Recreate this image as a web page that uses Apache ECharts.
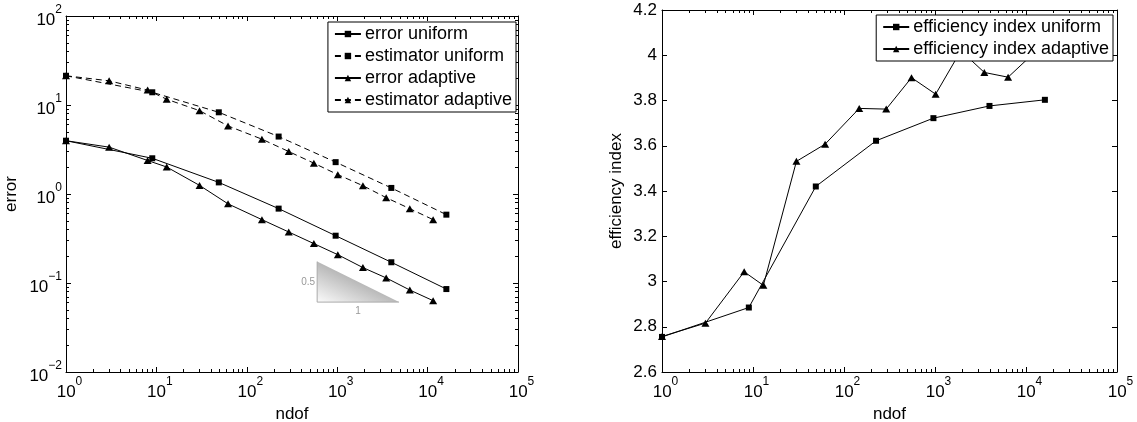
<!DOCTYPE html>
<html>
<head>
<meta charset="utf-8">
<script src="https://cdn.jsdelivr.net/npm/echarts@6/dist/echarts.min.js"></script>
<style>
html, body { margin: 0; padding: 0; background: #fff; }
#chart { width: 1137px; height: 422px; }
</style>
</head>
<body>
<div id="chart"></div>
<script>
// uniform refinement
var ndofUniform = [1, 9, 49, 225, 961, 3969, 16129];
var errorUniform = [3.97, 2.52, 1.35, 0.685, 0.34, 0.171, 0.0855];
var estimatorUniform = [21.3, 13.9, 8.28, 4.42, 2.28, 1.17, 0.586];
var effUniform = [2.755, 2.885, 3.42, 3.622, 3.722, 3.776, 3.803];

// adaptive refinement
var ndofAdaptive = [1, 3, 8, 13, 30, 62, 147, 291, 552, 1016, 1925, 3483, 6357, 11510];
var errorAdaptive = [3.97, 3.36, 2.38, 2.01, 1.25, 0.775, 0.515, 0.374, 0.277, 0.208, 0.149, 0.114, 0.0834, 0.0633];
var estimatorAdaptive = [21.3, 18.7, 14.7, 11.6, 8.64, 5.82, 4.13, 3.0, 2.22, 1.65, 1.24, 0.91, 0.684, 0.515];
var effAdaptive = [2.757, 2.816, 3.043, 2.983, 3.531, 3.607, 3.765, 3.762, 3.901, 3.828, 4.02, 3.924, 3.903, 4.0];

// slope triangle (ndof range, error range) and its labels
var slopeX = [600, 4830];
var slopeY = [0.061, 0.174];
var slopeLabels = ['0.5', '1'];

// tick values
var ndofTicks = [1, 10, 100, 1000, 10000, 100000];
var errorTicks = [0.01, 0.1, 1, 10, 100];

var FONT = 'Liberation Sans';
var FS = 17;
var LEGEND_FS = 18;

function minorTicks(lo, hi) {
    var out = [];
    for (var k = lo; k < hi; k++) {
        for (var m = 2; m <= 9; m++) {
            out.push(m * Math.pow(10, k));
        }
    }
    return out;
}

function pairs(xs, ys) {
    return xs.map(function (x, i) { return [x, ys[i]]; });
}

function supText(v) {
    var e = Math.round(Math.log10(v));
    return '{b|10}{s|' + (e < 0 ? '\u2212' + (-e) : e) + '}';
}

function supRich(padLeft) {
    return {
        b: { fontFamily: FONT, fontSize: FS, color: '#000', lineHeight: 25, verticalAlign: 'bottom', padding: [0, 0, 0, padLeft] },
        s: { fontFamily: FONT, fontSize: 12, color: '#000', lineHeight: 10, verticalAlign: 'top' }
    };
}

function mainAxis(type, grid, pos, min, max, opts) {
    var ax = {
        type: type,
        gridIndex: grid,
        position: pos,
        min: min,
        max: max,
        axisLine: { show: true, onZero: false, lineStyle: { color: '#000', width: 1 } },
        axisTick: { show: true, inside: true, length: 5, lineStyle: { color: '#000', width: 1 } },
        axisLabel: { show: false },
        splitLine: { show: false },
        minorTick: { show: false },
        minorSplitLine: { show: false }
    };
    if (type === 'log') {
        ax.logBase = 10;
    }
    for (var key in opts) {
        ax[key] = opts[key];
    }
    return ax;
}

function minorAxis(grid, pos, min, max, values) {
    return {
        type: 'log',
        logBase: 10,
        gridIndex: grid,
        position: pos,
        min: min,
        max: max,
        axisLine: { show: false },
        axisTick: { show: true, inside: true, length: 3, customValues: values, lineStyle: { color: '#000', width: 1 } },
        axisLabel: { show: false },
        splitLine: { show: false }
    };
}

function majorTick(values) {
    return { show: true, inside: true, length: 5, customValues: values, lineStyle: { color: '#000' } };
}

var nameStyle = { fontFamily: FONT, fontSize: FS, color: '#000' };

var xLabel = {
    show: true,
    margin: 4,
    customValues: ndofTicks,
    formatter: supText,
    rich: supRich(7)
};

function legendBox(right, top, names) {
    return {
        orient: 'vertical',
        right: right,
        top: top,
        padding: [3, 4, 3, 6],
        itemGap: 4,
        itemWidth: 26,
        itemHeight: 8,
        backgroundColor: '#fff',
        borderColor: '#000',
        borderWidth: 1,
        borderRadius: 0,
        itemStyle: { borderWidth: 0 },
        textStyle: { fontFamily: FONT, fontSize: LEGEND_FS, color: '#000', lineHeight: 18, padding: [0, 0, 0, -1] },
        data: names
    };
}

var chart = echarts.init(document.getElementById('chart'));

var option = {
    animation: false,
    backgroundColor: '#fff',
    textStyle: { fontFamily: FONT },
    grid: [
        { left: 66, top: 16, width: 452, height: 356, outerBoundsMode: 'none', containLabel: false },
        { left: 662, top: 10, width: 455, height: 362, outerBoundsMode: 'none', containLabel: false }
    ],
    xAxis: [
        // left plot
        mainAxis('log', 0, 'bottom', 1, 100000, {
            axisTick: majorTick(ndofTicks),
            axisLabel: xLabel,
            name: 'ndof', nameLocation: 'middle', nameGap: 28, nameTextStyle: nameStyle
        }),
        mainAxis('log', 0, 'top', 1, 100000, { axisTick: majorTick(ndofTicks) }),
        minorAxis(0, 'bottom', 1, 100000, minorTicks(0, 5)),
        minorAxis(0, 'top', 1, 100000, minorTicks(0, 5)),
        // right plot
        mainAxis('log', 1, 'bottom', 1, 100000, {
            axisTick: majorTick(ndofTicks),
            axisLabel: xLabel,
            name: 'ndof', nameLocation: 'middle', nameGap: 28, nameTextStyle: nameStyle
        }),
        mainAxis('log', 1, 'top', 1, 100000, { axisTick: majorTick(ndofTicks) }),
        minorAxis(1, 'bottom', 1, 100000, minorTicks(0, 5)),
        minorAxis(1, 'top', 1, 100000, minorTicks(0, 5))
    ],
    yAxis: [
        // left plot
        mainAxis('log', 0, 'left', 0.01, 100, {
            axisTick: majorTick(errorTicks),
            axisLabel: {
                show: true, margin: 4, customValues: errorTicks,
                formatter: supText, rich: supRich(0)
            },
            name: 'error', nameLocation: 'middle', nameGap: 46, nameTextStyle: nameStyle
        }),
        mainAxis('log', 0, 'right', 0.01, 100, { axisTick: majorTick(errorTicks) }),
        minorAxis(0, 'left', 0.01, 100, minorTicks(-2, 2)),
        minorAxis(0, 'right', 0.01, 100, minorTicks(-2, 2)),
        // right plot
        mainAxis('value', 1, 'left', 2.6, 4.2, {
            interval: 0.2,
            axisLabel: {
                show: true, margin: 5, fontFamily: FONT, fontSize: FS, color: '#000',
                formatter: function (v) { return String(parseFloat(v.toFixed(1))); }
            },
            name: 'efficiency index', nameLocation: 'middle', nameGap: 37, nameTextStyle: nameStyle
        }),
        mainAxis('value', 1, 'right', 2.6, 4.2, { interval: 0.2 })
    ],
    legend: [
        legendBox(1137 - 516, 22, ['error uniform', 'estimator uniform', 'error adaptive', 'estimator adaptive']),
        legendBox(1137 - 1113, 15, ['efficiency index uniform', 'efficiency index adaptive'])
    ],
    series: []
};

function addLine(name, xs, ys, symbol, size, dashed, xi, yi) {
    option.series.push({
        name: name,
        type: 'line',
        xAxisIndex: xi,
        yAxisIndex: yi,
        data: pairs(xs, ys),
        symbol: symbol,
        symbolSize: size,
        showSymbol: true,
        showAllSymbol: true,
        itemStyle: { color: '#000', borderWidth: 0 },
        lineStyle: { color: '#000', width: 1, type: dashed ? [6, 4] : 'solid' },
        emphasis: { disabled: true },
        z: 3
    });
}

addLine('error uniform', ndofUniform, errorUniform, 'rect', 6, false, 0, 0);
addLine('estimator uniform', ndofUniform, estimatorUniform, 'rect', 6, true, 0, 0);
addLine('error adaptive', ndofAdaptive, errorAdaptive, 'triangle', [8, 7], false, 0, 0);
addLine('estimator adaptive', ndofAdaptive, estimatorAdaptive, 'triangle', [8, 7], true, 0, 0);
addLine('efficiency index uniform', ndofUniform, effUniform, 'rect', 6, false, 4, 4);
addLine('efficiency index adaptive', ndofAdaptive, effAdaptive, 'triangle', [8, 7], false, 4, 4);

option.series.push({
    type: 'custom',
    xAxisIndex: 0,
    yAxisIndex: 0,
    silent: true,
    z: 1,
    data: [[slopeX[0], slopeY[0], slopeX[1], slopeY[1]]],
    renderItem: function (params, api) {
        var p0 = api.coord([api.value(0), api.value(1)]);
        var p1 = api.coord([api.value(2), api.value(3)]);
        var bl = [p0[0], p0[1]];
        var tl = [p0[0], p1[1]];
        var br = [p1[0], p0[1]];
        return {
            type: 'group',
            children: [
                {
                    type: 'polygon',
                    shape: { points: [bl, tl, br] },
                    style: {
                        fill: new echarts.graphic.LinearGradient(0, 1, 0.19, 0.19, [
                            { offset: 0, color: '#fbfbfb' },
                            { offset: 1, color: '#b8b8b8' }
                        ])
                    }
                },
                {
                    type: 'polyline',
                    shape: { points: [tl, bl, br] },
                    style: { stroke: '#aaa', lineWidth: 1, fill: null }
                },
                {
                    type: 'text',
                    x: bl[0] - 2,
                    y: (tl[1] + bl[1]) / 2,
                    style: { text: slopeLabels[0], align: 'right', verticalAlign: 'middle', fill: '#999', font: '10px "Liberation Sans"' }
                },
                {
                    type: 'text',
                    x: (bl[0] + br[0]) / 2,
                    y: bl[1] + 4,
                    style: { text: slopeLabels[1], align: 'center', verticalAlign: 'top', fill: '#999', font: '10px "Liberation Sans"' }
                }
            ]
        };
    }
});

chart.setOption(option);
</script>
</body>
</html>
